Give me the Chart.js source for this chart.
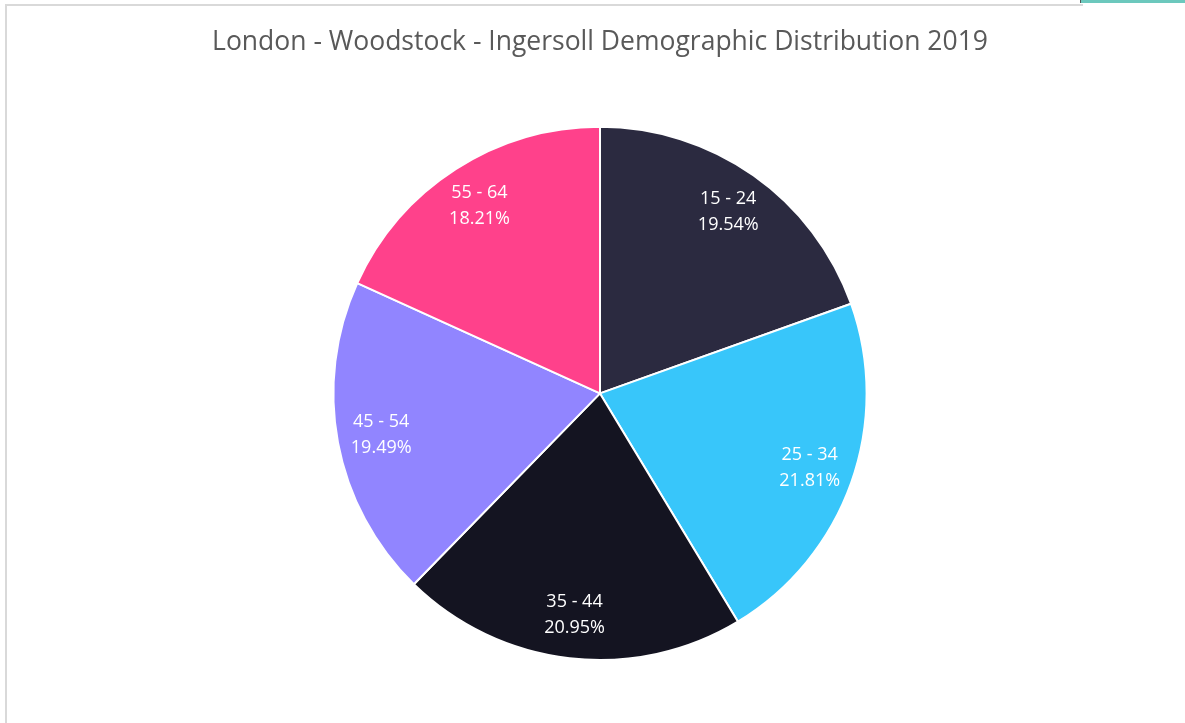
<!DOCTYPE html>
<html>
<head>
<meta charset="utf-8">
<style>
  html, body { margin: 0; padding: 0; background: #fff; }
  #wrap { position: relative; width: 1185px; height: 723px; overflow: hidden; }
  #frame { position: absolute; left: 5px; top: 4px; width: 1076px; height: 730px;
           border-left: 2px solid #d9d9d9; border-top: 2px solid #d9d9d9; }
  #tab { position: absolute; left: 1080px; top: 0; width: 110px; height: 3px;
         background: #6cc8bd; border-left: 1px solid #555; }
  canvas { position: absolute; left: 0; top: 0; }
</style>
</head>
<body>
<div id="wrap">
  <div id="frame"></div>
  <div id="tab"></div>
  <canvas id="demoChart" width="1185" height="723"></canvas>
</div>
<script src="https://cdn.jsdelivr.net/npm/chart.js@4/dist/chart.umd.min.js"></script>
<script>
const ageGroups = ['15 - 24', '25 - 34', '35 - 44', '45 - 54', '55 - 64'];
const shares = [19.54, 21.81, 20.95, 19.49, 18.21];
const sliceColors = ['#2b2a40', '#38c6fa', '#141421', '#9185ff', '#ff418b'];

// draws "label / pct%" inside each slice
const sliceLabels = {
    id: 'sliceLabels',
    afterDatasetsDraw(chart) {
        const ctx = chart.ctx;
        const meta = chart.getDatasetMeta(0);
        ctx.save();
        ctx.fillStyle = '#ffffff';
        ctx.font = '18px "Open Sans", sans-serif';
        ctx.textAlign = 'center';
        ctx.textBaseline = 'middle';
        meta.data.forEach((arc, i) => {
            const p = arc.getProps(['x', 'y', 'startAngle', 'endAngle', 'outerRadius'], true);
            const mid = (p.startAngle + p.endAngle) / 2;
            const r = p.outerRadius * 0.835;
            const x = p.x + Math.cos(mid) * r;
            const y = p.y + Math.sin(mid) * r;
            ctx.fillText(ageGroups[i], x, y - 13);
            ctx.fillText(shares[i].toFixed(2) + '%', x, y + 13);
        });
        ctx.restore();
    }
};

new Chart(document.getElementById('demoChart'), {
    type: 'pie',
    data: {
        labels: ageGroups,
        datasets: [{
            data: shares,
            backgroundColor: sliceColors,
            borderColor: '#ffffff',
            borderWidth: 2
        }]
    },
    options: {
        responsive: false,
        animation: false,
        layout: { padding: { left: 15, right: 0, top: 0, bottom: 62 } },
        plugins: {
            legend: { display: false },
            tooltip: { enabled: false },
            title: {
                display: true,
                text: 'London - Woodstock - Ingersoll Demographic Distribution 2019',
                color: '#595959',
                font: { family: '"Open Sans", sans-serif', size: 26.5, weight: 'normal', lineHeight: 1.2 },
                padding: { top: 27, bottom: 67 }
            }
        }
    },
    plugins: [sliceLabels]
});
</script>
</body>
</html>
